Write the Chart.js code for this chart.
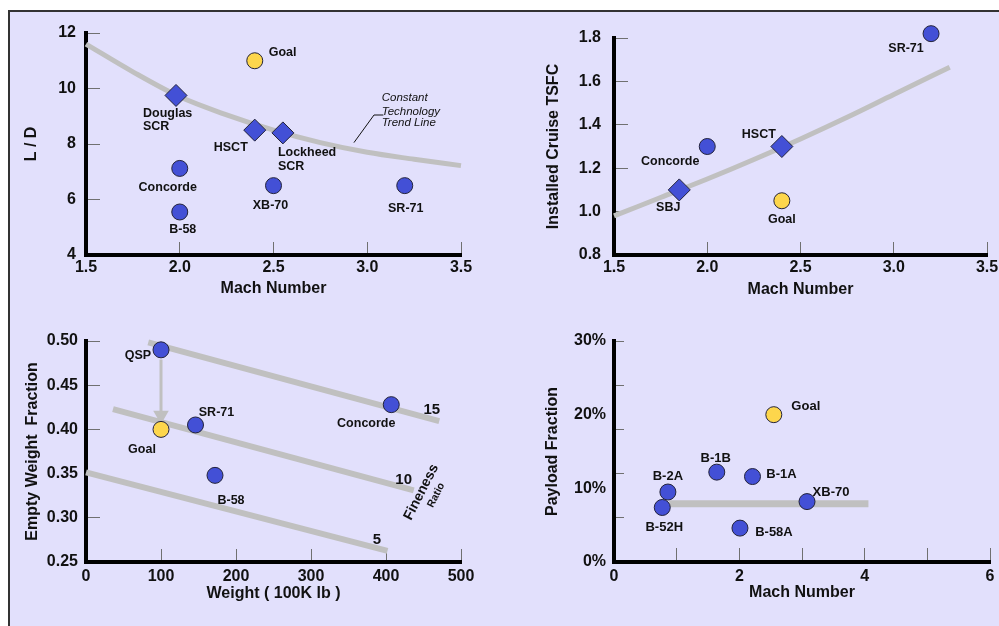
<!DOCTYPE html>
<html lang="en">
<head>
<meta charset="UTF-8">
<title>Supersonic Aircraft Trends</title>
<script src="https://cdn.jsdelivr.net/npm/chart.js"></script>
<style>
  body { margin: 0; background: #fff; width: 999px; height: 626px; overflow: hidden; position: relative; }
  #panel { position: absolute; left: 8px; top: 10px; right: 0; bottom: 0; background: #e2e0fc; border-top: 2px solid #333; border-left: 2px solid #333; }
  canvas { position: absolute; }
</style>
</head>
<body>
<div id="panel"></div>
<canvas id="ld" width="490" height="296" style="left:10px;top:12px"></canvas>
<canvas id="tsfc" width="499" height="296" style="left:500px;top:12px"></canvas>
<canvas id="ewf" width="490" height="314" style="left:10px;top:312px"></canvas>
<canvas id="payload" width="499" height="314" style="left:500px;top:312px"></canvas>

<script>
// ---- L/D vs Mach ----
const ldNames = ["Concorde", "B-58", "XB-70", "SR-71"];
const ldMach = [2.0, 2.0, 2.5, 3.2];
const ldValue = [7.12, 5.55, 6.5, 6.5];
const ldScrNames = ["Douglas\nSCR", "HSCT", "Lockheed\nSCR"];
const ldScrMach = [1.98, 2.4, 2.55];
const ldScrValue = [9.75, 8.5, 8.4];
const ldGoalMach = [2.4];
const ldGoalValue = [11.0];
const ldTrendMach = [1.5, 1.75, 2.0, 2.25, 2.5, 2.75, 3.0, 3.25, 3.5];
const ldTrendValue = [11.6, 10.6, 9.7, 9.05, 8.5, 8.05, 7.7, 7.45, 7.22];
const ldLeaderMach = [2.929, 3.036, 3.086];
const ldLeaderValue = [8.05, 9.045, 9.045];
const ldNoteText = ["Constant", "Technology", "Trend Line"];
const ldNoteMach = [3.077, 3.077, 3.077];
const ldNoteValue = [9.66, 9.17, 8.75];
const ldXTicks = [1.5, 2.0, 2.5, 3.0, 3.5];
const ldYTicks = [4, 6, 8, 10, 12];

// ---- TSFC vs Mach ----
const tsfcNames = ["SR-71", "Concorde"];
const tsfcMach = [3.2, 2.0];
const tsfcValue = [1.82, 1.3];
const tsfcNewNames = ["HSCT", "SBJ"];
const tsfcNewMach = [2.4, 1.85];
const tsfcNewValue = [1.3, 1.1];
const tsfcGoalMach = [2.4];
const tsfcGoalValue = [1.05];
const tsfcTrendMach = [1.5, 1.75, 2.0, 2.25, 2.5, 2.75, 3.0, 3.3];
const tsfcTrendValue = [0.98, 1.065, 1.15, 1.24, 1.335, 1.435, 1.54, 1.665];
const tsfcXTicks = [1.5, 2.0, 2.5, 3.0, 3.5];
const tsfcYTicks = [0.8, 1.0, 1.2, 1.4, 1.6, 1.8];

// ---- Empty weight fraction vs weight ----
const ewfNames = ["QSP", "SR-71", "B-58", "Concorde"];
const ewfWeight = [100, 146, 172, 407];
const ewfValue = [0.49, 0.405, 0.348, 0.428];
const ewfGoalWeight = [100];
const ewfGoalValue = [0.40];
const fineness15Weight = [83, 471];
const fineness15Value = [0.4985, 0.4094];
const fineness10Weight = [36, 437];
const fineness10Value = [0.423, 0.331];
const fineness5Weight = [0, 402];
const fineness5Value = [0.3513, 0.2625];
const arrowWeight = [100, 100];
const arrowValue = [0.479, 0.416];
const ewfNoteText = ["15", "10", "5", "Fineness", "Ratio"];
const ewfNoteWeight = [461, 423.5, 388, 447, 467];
const ewfNoteValue = [0.4218, 0.3433, 0.2746, 0.329, 0.3256];
const ewfXTicks = [0, 100, 200, 300, 400, 500];
const ewfYTicks = [0.25, 0.30, 0.35, 0.40, 0.45, 0.50];

// ---- Payload fraction vs Mach ----
const payNames = ["B-52H", "B-2A", "B-1B", "B-1A", "B-58A", "XB-70"];
const payMach = [0.77, 0.86, 1.64, 2.21, 2.01, 3.08];
const payValue = [7.4, 9.5, 12.2, 11.6, 4.6, 8.2];
const payGoalMach = [2.55];
const payGoalValue = [20.0];
const payLineMach = [0.88, 4.06];
const payLineValue = [7.9, 7.9];
const payXTicks = [0, 1, 2, 3, 4, 5, 6];
const payXLabels = [0, 2, 4, 6];
const payYMarks = [0, 6, 12, 18, 24, 30];
const payYLabels = [0, 10, 20, 30];

const FONT = "'Liberation Sans', Arial, sans-serif";
const BLUE = "#4350d6";
const GOLD = "#fdd64c";
const EDGE = "#22223a";
const TREND = "#c0c0c0";
Chart.defaults.font.family = FONT;
Chart.defaults.color = "#111";

const xy = (xs, ys) => xs.map((x, i) => ({ x: x, y: ys[i] }));

function fixSize(size) {
  return s => {
    if (s.isHorizontal()) s.height = size; else s.width = size;
    s.paddingLeft = s.paddingRight = s.paddingTop = s.paddingBottom = 0;
  };
}

function axis(c) {
  const horiz = c.position === "bottom";
  return {
    type: "linear",
    position: c.position,
    min: c.ticks[0],
    max: c.ticks[c.ticks.length - 1],
    afterFit: fixSize(c.size),
    afterBuildTicks: s => { s.ticks = c.ticks.map(v => ({ value: v })); },
    border: { display: true, color: "#000", width: 4 },
    grid: { drawOnChartArea: false, drawTicks: true, tickLength: -(c.tl || 13), tickColor: c.tickColor || "#707070", lineWidth: 1 },
    ticks: { padding: c.pad, autoSkip: false, maxRotation: 0, color: "#111", font: { size: 16, weight: "bold" }, callback: c.fmt },
    title: { display: true, text: c.title, color: "#111", font: { size: 16, weight: "bold" },
             padding: horiz ? { top: 0, bottom: c.titlePad } : { top: c.titlePad, bottom: 0 } }
  };
}

function points(xs, ys, names, offsets, style, color, radius, font) {
  return {
    data: xy(xs, ys), pointStyle: style, pointRadius: radius, backgroundColor: color,
    borderColor: EDGE, borderWidth: 1, order: 1, clip: false,
    pointLabels: names, labelOffsets: offsets, labelFont: font
  };
}

function line(xs, ys, width, color, smooth) {
  return {
    data: xy(xs, ys), showLine: true, pointRadius: 0, borderColor: color, borderWidth: width,
    cubicInterpolationMode: smooth ? "monotone" : "default", order: 3, clip: false
  };
}

const labelPlugin = {
  id: "pointText",
  afterDatasetsDraw(chart) {
    const ctx = chart.ctx;
    ctx.save();
    ctx.fillStyle = "#111";
    ctx.textBaseline = "middle";
    chart.data.datasets.forEach((ds, di) => {
      if (!ds.pointLabels) return;
      const meta = chart.getDatasetMeta(di);
      ds.pointLabels.forEach((text, i) => {
        const el = meta.data[i];
        const off = ds.labelOffsets[i];
        ctx.font = ds.labelFont || "bold 12.5px " + FONT;
        ctx.textAlign = off[2] || "center";
        text.split("\n").forEach((t, k) => ctx.fillText(t, el.x + off[0], el.y + off[1] + k * 13.5));
      });
    });
    ctx.restore();
  }
};

function notePlugin(texts, xs, ys, styles) {
  return {
    id: "notes",
    afterDatasetsDraw(chart) {
      const ctx = chart.ctx;
      const sx = chart.scales.x, sy = chart.scales.y;
      ctx.save();
      ctx.fillStyle = "#111";
      ctx.textBaseline = "middle";
      texts.forEach((t, i) => {
        const st = styles[i];
        ctx.save();
        ctx.translate(sx.getPixelForValue(xs[i]), sy.getPixelForValue(ys[i]));
        if (st.rot) ctx.rotate(st.rot * Math.PI / 180);
        ctx.font = st.font;
        ctx.textAlign = st.align || "center";
        ctx.fillText(t, 0, 0);
        ctx.restore();
      });
      ctx.restore();
    }
  };
}

function baseOptions(pad, scales) {
  return {
    responsive: false, animation: false, events: [],
    layout: { padding: pad },
    plugins: { legend: { display: false }, tooltip: { enabled: false } },
    scales: scales
  };
}

const one = v => Number(v).toFixed(1);
const two = v => Number(v).toFixed(2);

// L/D chart
new Chart(document.getElementById("ld"), {
  type: "scatter",
  data: { datasets: [
    points(ldGoalMach, ldGoalValue, ["Goal"], [[14, -8, "left"]], "circle", GOLD, 8),
    points(ldScrMach, ldScrValue, ldScrNames, [[-33, 18, "left"], [-24, 17], [-5, 20, "left"]], "rectRot", BLUE, 11),
    points(ldMach, ldValue, ldNames, [[-12, 19], [3, 18], [-3, 20], [1, 23]], "circle", BLUE, 8),
    line(ldTrendMach, ldTrendValue, 5, TREND, true),
    line(ldLeaderMach, ldLeaderValue, 1, "#111", false)
  ] },
  options: baseOptions({ left: 0, top: 21, right: 39, bottom: 0 }, {
    x: axis({ position: "bottom", ticks: ldXTicks, size: 53, pad: 16.4, fmt: one, title: "Mach Number", titlePad: 9.4 }),
    y: axis({ position: "left", ticks: ldYTicks, size: 76, pad: 24, tl: 14, fmt: v => v, title: "L / D", titlePad: 12.4 })
  }),
  plugins: [labelPlugin, notePlugin(ldNoteText, ldNoteMach, ldNoteValue,
    ldNoteText.map(() => ({ font: "italic 11.5px " + FONT, align: "left" })))]
});

// TSFC chart
new Chart(document.getElementById("tsfc"), {
  type: "scatter",
  data: { datasets: [
    points(tsfcGoalMach, tsfcGoalValue, ["Goal"], [[0, 19]], "circle", GOLD, 8),
    points(tsfcNewMach, tsfcNewValue, tsfcNewNames, [[-23, -12], [-11, 18]], "rectRot", BLUE, 11),
    points(tsfcMach, tsfcValue, tsfcNames, [[-25, 15], [-37, 15]], "circle", BLUE, 8),
    line(tsfcTrendMach, tsfcTrendValue, 5, TREND, true)
  ] },
  options: baseOptions({ left: 0, top: 26, right: 9, bottom: 0 }, {
    x: axis({ position: "bottom", ticks: tsfcXTicks, size: 53, pad: 16.4, fmt: one, title: "Mach Number", titlePad: 9.1 }),
    y: axis({ position: "left", ticks: tsfcYTicks, size: 114, pad: 27, tl: 14, fmt: one, title: "Installed Cruise TSFC", titlePad: 43.7 })
  }),
  plugins: [labelPlugin]
});

// Empty weight fraction chart
new Chart(document.getElementById("ewf"), {
  type: "scatter",
  data: { datasets: [
    points(ewfGoalWeight, ewfGoalValue, ["Goal"], [[-19, 20]], "circle", GOLD, 8),
    points(ewfWeight, ewfValue, ewfNames, [[-23, 6], [21, -12], [16, 25], [-25, 19]], "circle", BLUE, 8),
    line(fineness15Weight, fineness15Value, 6, TREND, false),
    line(fineness10Weight, fineness10Value, 6, TREND, false),
    line(fineness5Weight, fineness5Value, 6, TREND, false),
    Object.assign(line(arrowWeight, arrowValue, 3, TREND, false),
      { pointRadius: [0, 6], pointStyle: "triangle", rotation: 180, backgroundColor: TREND, pointBorderColor: TREND })
  ] },
  options: baseOptions({ left: 0, top: 29, right: 39, bottom: 0 }, {
    x: axis({ position: "bottom", ticks: ewfXTicks, size: 64, pad: 18.4, fmt: v => v, title: "Weight ( 100K lb )", titlePad: 22.4 }),
    y: axis({ position: "left", ticks: ewfYTicks, size: 76, pad: 22, tl: 14, fmt: two, title: "Empty Weight  Fraction", titlePad: 13.4 })
  }),
  plugins: [labelPlugin, notePlugin(ewfNoteText, ewfNoteWeight, ewfNoteValue, [
    { font: "bold 15px " + FONT }, { font: "bold 15px " + FONT }, { font: "bold 15px " + FONT },
    { font: "bold 14px " + FONT, rot: -63 }, { font: "bold 10.5px " + FONT, rot: -63 }
  ])]
});

// Payload fraction chart
const payFont = "bold 13px " + FONT;
new Chart(document.getElementById("payload"), {
  type: "scatter",
  data: { datasets: [
    points(payGoalMach, payGoalValue, ["Goal"], [[32, -8]], "circle", GOLD, 8, payFont),
    points(payMach, payValue, payNames, [[2, 20], [0, -16], [-1, -14], [29, -2], [34, 4], [24, -9]], "circle", BLUE, 8, payFont),
    line(payLineMach, payLineValue, 7, TREND, false)
  ] },
  options: baseOptions({ left: 0, top: 29, right: 4, bottom: 0 }, {
    x: axis({ position: "bottom", ticks: payXTicks, size: 64, pad: 19.4, tl: 14,
              fmt: v => payXLabels.includes(v) ? String(v) : "", title: "Mach Number", titlePad: 23.4 }),
    y: axis({ position: "left", ticks: payYLabels.concat(payYMarks).filter((v, i, a) => a.indexOf(v) === i).sort((a, b) => a - b),
              size: 114, pad: 18, tl: 10, fmt: v => payYLabels.includes(v) ? v + "%" : "", title: "Payload Fraction", titlePad: 43.4 })
  }),
  plugins: [labelPlugin]
});
// tick marks only where the original has them
Chart.getChart("payload").options.scales.y.grid.tickColor = ctx => payYMarks.includes(ctx.tick.value) ? "#707070" : "rgba(0,0,0,0)";
Chart.getChart("payload").update();
</script>
</body>
</html>
